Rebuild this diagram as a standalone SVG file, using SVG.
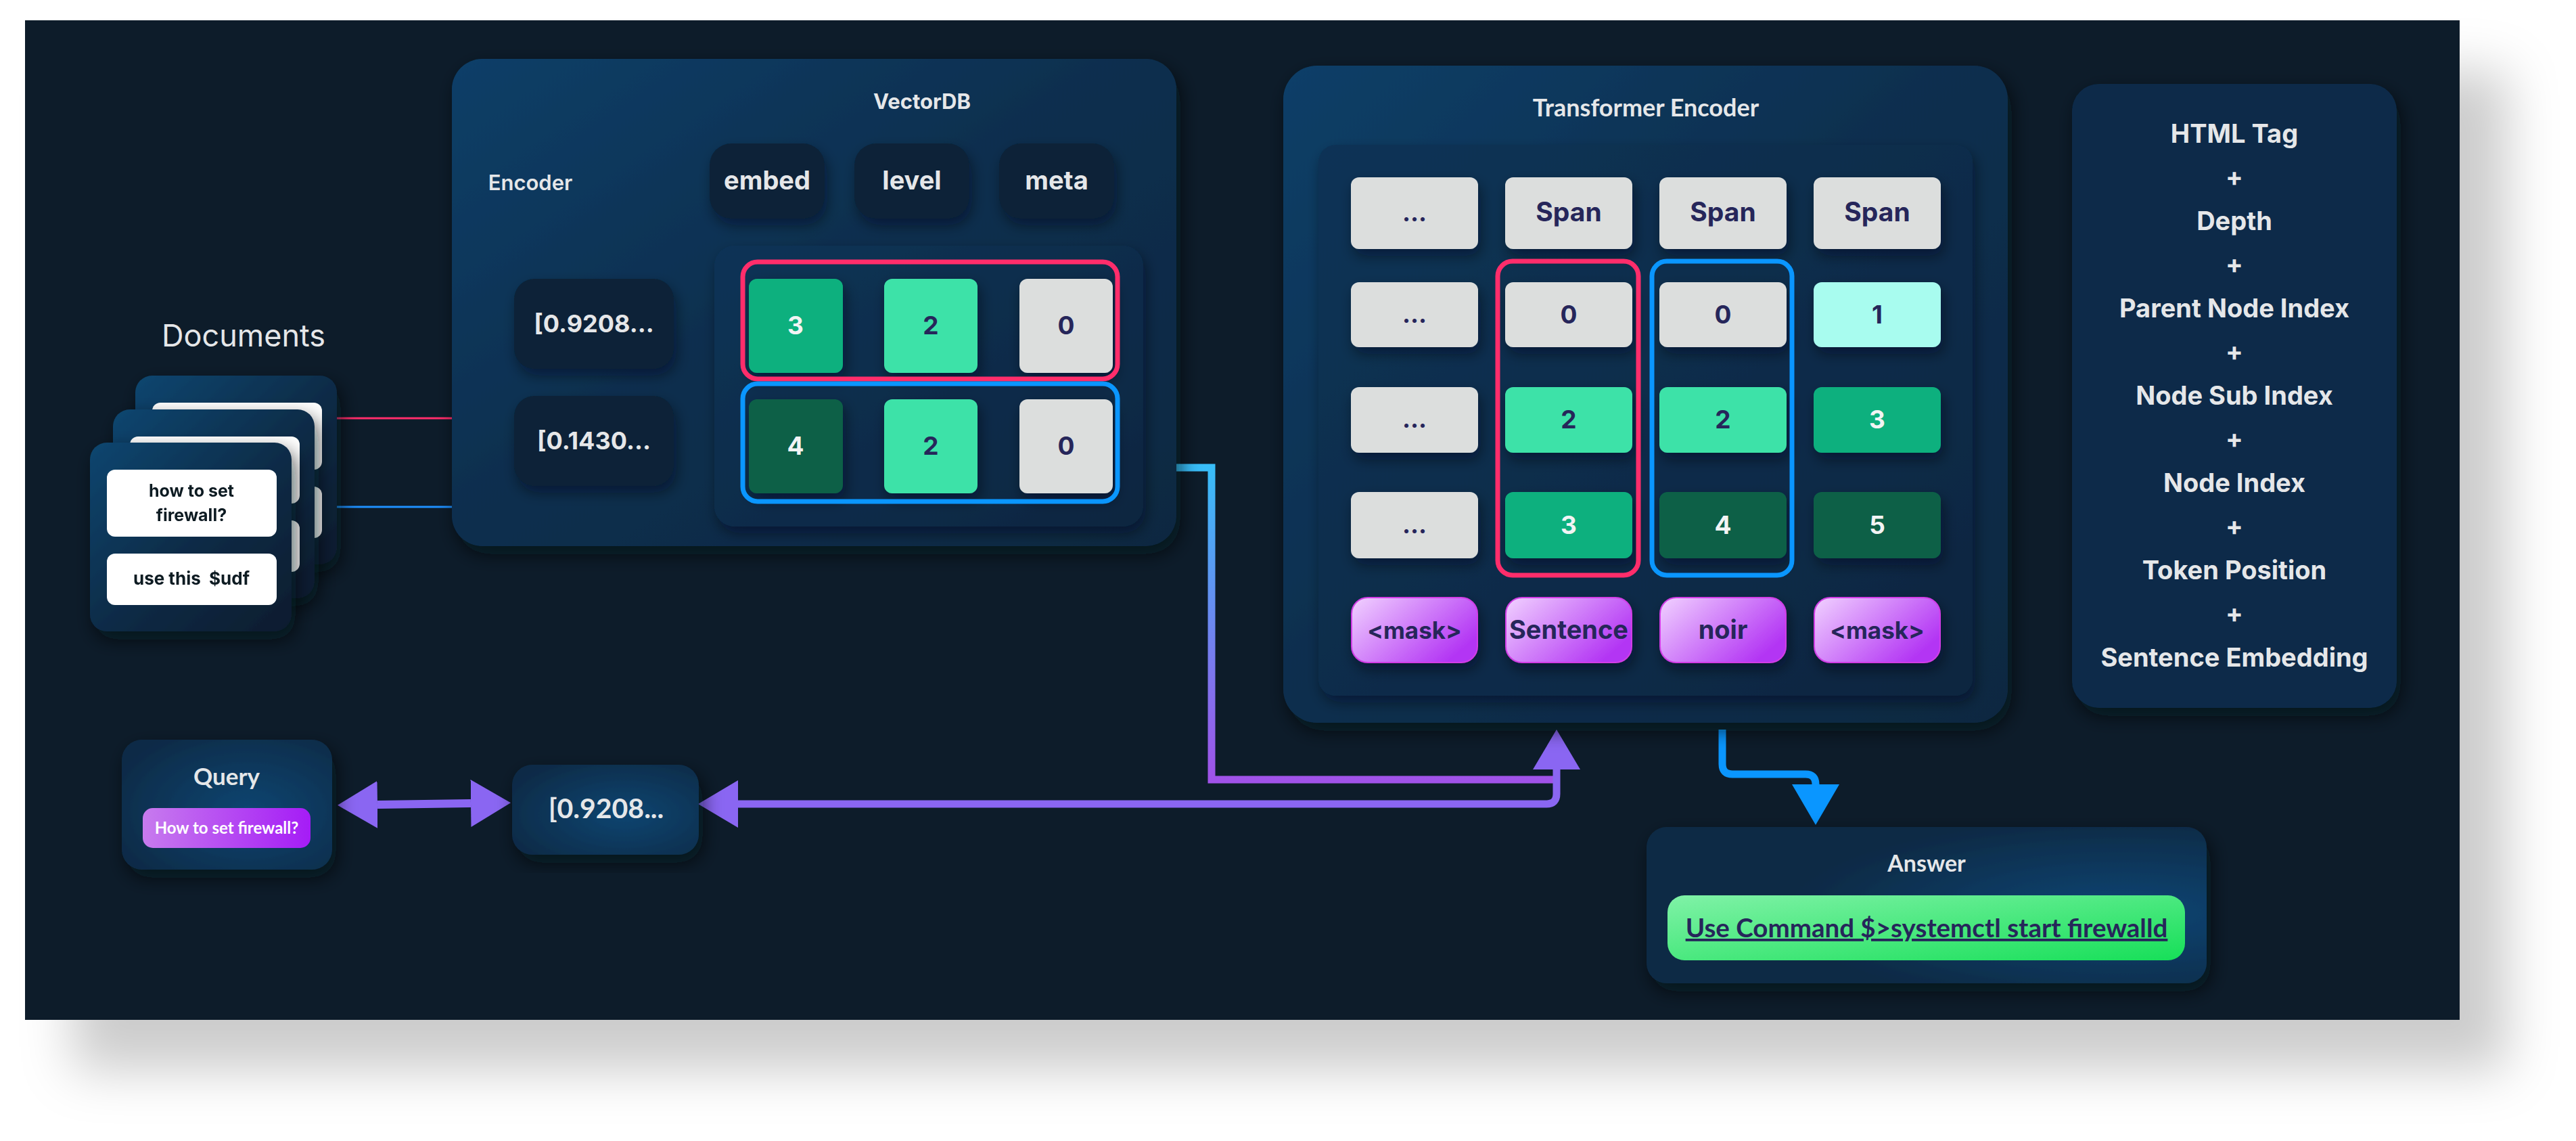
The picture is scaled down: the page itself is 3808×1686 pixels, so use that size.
<svg xmlns="http://www.w3.org/2000/svg" width="3808" height="1686" viewBox="0 0 3808 1686">
<defs>
<style>
.p{font-family:Inter,"Noto Sans","DejaVu Sans",sans-serif;font-weight:700;text-anchor:middle}
.s{font-family:Lato,"Noto Sans","DejaVu Sans",sans-serif;font-weight:700;text-anchor:middle}
.lt{fill:#e5e7e9}
.nv{fill:#26265a}
.wt{fill:#f2f4f4}
.dk{fill:#0a2237}
.gr{fill:#dcdedd}
.g1{fill:#0db07e}
.g2{fill:#3ee2a8}
.g3{fill:#0a6147}
.cy{fill:#a8fcef}
.tile{fill:#ffffff}
.pill{fill:url(#pillGrad);stroke:#d23ee6;stroke-width:2}
.red{fill:none;stroke:#ff2d6b;stroke-width:7}
.blu{fill:none;stroke:#0a96ff;stroke-width:7}
</style>
<filter id="pageSh" x="-5%" y="-5%" width="115%" height="125%">
<feDropShadow dx="70" dy="75" stdDeviation="38" flood-color="#000" flood-opacity="0.2"/>
</filter>
<filter id="sh" x="-20%" y="-20%" width="140%" height="140%">
<feDropShadow dx="6" dy="12" stdDeviation="14" flood-color="#040c14" flood-opacity="0.65"/>
</filter>
<filter id="sh2" x="-30%" y="-30%" width="160%" height="170%">
<feDropShadow dx="4" dy="10" stdDeviation="10" flood-color="#040c14" flood-opacity="0.45"/>
</filter>
<linearGradient id="panelGrad" x1="0" y1="0" x2="1" y2="1">
<stop offset="0" stop-color="#0c3f68"/><stop offset="0.45" stop-color="#0c2f4f"/><stop offset="1" stop-color="#0b2841"/>
</linearGradient>
<linearGradient id="innerGrad" x1="0" y1="0" x2="1" y2="1">
<stop offset="0" stop-color="#0b3356"/><stop offset="1" stop-color="#0a2640"/>
</linearGradient>
<linearGradient id="cardGrad" x1="0" y1="0" x2="1" y2="1">
<stop offset="0" stop-color="#0d4670"/><stop offset="0.55" stop-color="#0c2a45"/><stop offset="1" stop-color="#0a1c2e"/>
</linearGradient>
<radialGradient id="glowQ" cx="0.6" cy="0.55" r="0.7">
<stop offset="0" stop-color="#0c4571"/><stop offset="1" stop-color="#0b2a46"/>
</radialGradient>
<radialGradient id="glowA" cx="0.85" cy="0.55" r="0.6">
<stop offset="0" stop-color="#0d4574"/><stop offset="1" stop-color="#0b2a45"/>
</radialGradient>
<linearGradient id="pillGrad" x1="0" y1="0" x2="1" y2="0.6">
<stop offset="0" stop-color="#f1d2ff"/><stop offset="1" stop-color="#b335f4"/>
</linearGradient>
<linearGradient id="qPill" x1="0" y1="0" x2="1" y2="0">
<stop offset="0" stop-color="#c77bee"/><stop offset="1" stop-color="#a51cf6"/>
</linearGradient>
<linearGradient id="greenGrad" x1="0" y1="0" x2="1" y2="1">
<stop offset="0" stop-color="#80f2a7"/><stop offset="1" stop-color="#16df58"/>
</linearGradient>
<linearGradient id="connGrad" gradientUnits="userSpaceOnUse" x1="0" y1="691" x2="0" y2="1152">
<stop offset="0" stop-color="#38bdf8"/><stop offset="1" stop-color="#a052e8"/>
</linearGradient>
<marker id="vhead" viewBox="0 0 59 70" refX="0" refY="35" markerWidth="59" markerHeight="70" markerUnits="userSpaceOnUse" orient="auto-start-reverse">
<path d="M0,0 L59,35 L0,70 Z" fill="#8a66f2"/>
</marker>
<marker id="bhead" viewBox="0 0 60 70" refX="0" refY="35" markerWidth="60" markerHeight="70" markerUnits="userSpaceOnUse" orient="auto">
<path d="M0,0 L60,35 L0,70 Z" fill="#0a96ff"/>
</marker>
</defs>

<rect x="0" y="0" width="3808" height="1686" fill="#ffffff"/>
<rect id="page" x="37" y="30" width="3599" height="1477" fill="#0e1e2c" filter="url(#pageSh)"/>

<g id="connectors">
<path d="M498,618 H757" stroke="#ff2d6b" stroke-width="3" fill="none"/>
<path d="M498,749 H757" stroke="#1e90ff" stroke-width="3" fill="none"/>
<path d="M1739,691 H1791 V1152 H2301" stroke="url(#connGrad)" stroke-width="11" fill="none"/>
<path d="M1091,1188 H2286 Q2301,1188 2301,1173 V1137" stroke="#8a66f2" stroke-width="11" fill="none" marker-start="url(#vhead)" marker-end="url(#vhead)"/>
<path d="M558,1189 L696,1187" stroke="#8a66f2" stroke-width="12" fill="none" marker-start="url(#vhead)" marker-end="url(#vhead)"/>
<path d="M2546,1078 V1129 Q2546,1144 2561,1144 H2669 Q2684,1144 2684,1159" stroke="#0a96ff" stroke-width="11" fill="none" marker-end="url(#bhead)"/>
</g>

<g id="documents">
<text class="p lt" x="360" y="512" font-size="45" style="font-weight:400">Documents</text>
<g id="doc3" filter="url(#sh)">
<rect x="200" y="555" width="298" height="279" rx="25" fill="url(#cardGrad)"/>
<rect class="tile" x="225" y="595" width="251" height="99" rx="12"/>
<rect class="tile" x="225" y="719" width="251" height="76" rx="12"/>
</g>
<g id="doc2" filter="url(#sh)">
<rect x="167" y="605" width="298" height="279" rx="25" fill="url(#cardGrad)"/>
<rect class="tile" x="192" y="645" width="251" height="99" rx="12"/>
<rect class="tile" x="192" y="769" width="251" height="76" rx="12"/>
</g>
<g id="doc1" filter="url(#sh)">
<rect x="133" y="654" width="298" height="279" rx="25" fill="url(#cardGrad)"/>
<rect class="tile" x="158" y="694" width="251" height="99" rx="12"/>
<rect class="tile" x="158" y="818" width="251" height="76" rx="12"/>
<text class="p" x="283" y="734" font-size="25" fill="#111a24">how to set</text>
<text class="p" x="283" y="770" font-size="25" fill="#111a24">firewall?</text>
<text class="p" x="283" y="864" font-size="26" fill="#111a24" xml:space="preserve">use this  $udf</text>
</g>
</g>

<g id="vectordb">
<rect x="668" y="87" width="1071" height="720" rx="45" fill="url(#panelGrad)" filter="url(#sh)"/>
<text class="p lt" x="1363" y="161" font-size="31">VectorDB</text>
<text class="p lt" x="784" y="281" font-size="31" style="font-weight:600">Encoder</text>
<g filter="url(#sh2)">
<rect class="dk" x="1049" y="212" width="170" height="111" rx="32"/>
<rect class="dk" x="1263" y="212" width="170" height="111" rx="32"/>
<rect class="dk" x="1477" y="212" width="170" height="111" rx="32"/>
</g>
<text class="p lt" x="1134" y="280" font-size="38">embed</text>
<text class="p lt" x="1348" y="280" font-size="38">level</text>
<text class="p lt" x="1562" y="280" font-size="38">meta</text>
<g filter="url(#sh2)">
<rect class="dk" x="760" y="412" width="236" height="133" rx="30"/>
<rect class="dk" x="760" y="585" width="236" height="133" rx="30"/>
</g>
<text class="p lt" x="878" y="491" font-size="36">[0.9208...</text>
<text class="p lt" x="878" y="664" font-size="36">[0.1430...</text>
<rect x="1056" y="363" width="634" height="415" rx="30" fill="url(#innerGrad)" filter="url(#sh2)"/>
<g filter="url(#sh2)">
<rect class="g1" x="1107" y="412" width="139" height="139" rx="12"/>
<rect class="g2" x="1307" y="412" width="138" height="139" rx="12"/>
<rect class="gr" x="1507" y="412" width="138" height="139" rx="12"/>
<rect class="g3" x="1107" y="590" width="139" height="139" rx="12"/>
<rect class="g2" x="1307" y="590" width="138" height="139" rx="12"/>
<rect class="gr" x="1507" y="590" width="138" height="139" rx="12"/>
</g>
<text class="p wt" x="1176" y="494" font-size="37">3</text>
<text class="p nv" x="1376" y="494" font-size="37">2</text>
<text class="p nv" x="1576" y="494" font-size="37">0</text>
<text class="p wt" x="1176" y="672" font-size="37">4</text>
<text class="p nv" x="1376" y="672" font-size="37">2</text>
<text class="p nv" x="1576" y="672" font-size="37">0</text>
<rect class="red" x="1098" y="387" width="554" height="173" rx="22"/>
<rect class="blu" x="1098" y="567" width="554" height="174" rx="22"/>
</g>

<g id="query">
<rect x="180" y="1093" width="311" height="192" rx="30" fill="url(#glowQ)" filter="url(#sh)"/>
<text class="s lt" x="335" y="1160" font-size="35">Query</text>
<rect x="211" y="1194" width="248" height="59" rx="15" fill="url(#qPill)"/>
<text class="s" x="335" y="1232" font-size="24" fill="#ffffff">How to set firewall?</text>
</g>

<g id="queryvec">
<rect x="757" y="1130" width="276" height="133" rx="30" fill="url(#glowQ)" filter="url(#sh)"/>
<text class="s lt" x="896" y="1209" font-size="41">[0.9208...</text>
</g>

<g id="transformer">
<rect x="1897" y="97" width="1071" height="971" rx="50" fill="url(#panelGrad)" filter="url(#sh)"/>
<text class="s lt" x="2433" y="172" font-size="36">Transformer Encoder</text>
<rect x="1949" y="214" width="967" height="814" rx="25" fill="url(#innerGrad)" filter="url(#sh2)"/>
<g filter="url(#sh2)">
<rect class="gr" x="1997" y="262" width="188" height="106" rx="12"/>
<rect class="gr" x="2225" y="262" width="188" height="106" rx="12"/>
<rect class="gr" x="2453" y="262" width="188" height="106" rx="12"/>
<rect class="gr" x="2681" y="262" width="188" height="106" rx="12"/>
<rect class="gr" x="1997" y="417" width="188" height="96" rx="12"/>
<rect class="gr" x="2225" y="417" width="188" height="96" rx="12"/>
<rect class="gr" x="2453" y="417" width="188" height="96" rx="12"/>
<rect class="cy" x="2681" y="417" width="188" height="96" rx="12"/>
<rect class="gr" x="1997" y="572" width="188" height="97" rx="12"/>
<rect class="g2" x="2225" y="572" width="188" height="97" rx="12"/>
<rect class="g2" x="2453" y="572" width="188" height="97" rx="12"/>
<rect class="g1" x="2681" y="572" width="188" height="97" rx="12"/>
<rect class="gr" x="1997" y="727" width="188" height="98" rx="12"/>
<rect class="g1" x="2225" y="727" width="188" height="98" rx="12"/>
<rect class="g3" x="2453" y="727" width="188" height="98" rx="12"/>
<rect class="g3" x="2681" y="727" width="188" height="98" rx="12"/>
<rect class="pill" x="1998" y="883" width="186" height="96" rx="24"/>
<rect class="pill" x="2226" y="883" width="186" height="96" rx="24"/>
<rect class="pill" x="2454" y="883" width="186" height="96" rx="24"/>
<rect class="pill" x="2682" y="883" width="186" height="96" rx="24"/>
</g>
<text class="p nv" x="2091" y="327" font-size="36">...</text>
<text class="p nv" x="2319" y="327" font-size="39">Span</text>
<text class="p nv" x="2547" y="327" font-size="39">Span</text>
<text class="p nv" x="2775" y="327" font-size="39">Span</text>
<text class="p nv" x="2091" y="477" font-size="36">...</text>
<text class="p nv" x="2319" y="478" font-size="37">0</text>
<text class="p nv" x="2547" y="478" font-size="37">0</text>
<text class="p nv" x="2775" y="478" font-size="37">1</text>
<text class="p nv" x="2091" y="632" font-size="36">...</text>
<text class="p nv" x="2319" y="633" font-size="37">2</text>
<text class="p nv" x="2547" y="633" font-size="37">2</text>
<text class="p wt" x="2775" y="633" font-size="37">3</text>
<text class="p nv" x="2091" y="788" font-size="36">...</text>
<text class="p wt" x="2319" y="789" font-size="37">3</text>
<text class="p wt" x="2547" y="789" font-size="37">4</text>
<text class="p wt" x="2775" y="789" font-size="37">5</text>
<text class="p nv" x="2091" y="944" font-size="35">&lt;mask&gt;</text>
<text class="p nv" x="2319" y="944" font-size="38">Sentence</text>
<text class="p nv" x="2547" y="944" font-size="38">noir</text>
<text class="p nv" x="2775" y="944" font-size="35">&lt;mask&gt;</text>
<rect class="red" x="2214" y="386" width="208" height="464" rx="22"/>
<rect class="blu" x="2442" y="386" width="207" height="464" rx="22"/>
</g>

<g id="features">
<rect x="3063" y="124" width="480" height="922" rx="40" fill="#0c2b48" filter="url(#sh)"/>
<text class="p lt" x="3303" y="211" font-size="38">HTML Tag</text>
<text class="p lt" x="3303" y="275" font-size="38">+</text>
<text class="p lt" x="3303" y="340" font-size="38">Depth</text>
<text class="p lt" x="3303" y="404" font-size="38">+</text>
<text class="p lt" x="3303" y="469" font-size="38">Parent Node Index</text>
<text class="p lt" x="3303" y="533" font-size="38">+</text>
<text class="p lt" x="3303" y="598" font-size="38">Node Sub Index</text>
<text class="p lt" x="3303" y="662" font-size="38">+</text>
<text class="p lt" x="3303" y="727" font-size="38">Node Index</text>
<text class="p lt" x="3303" y="791" font-size="38">+</text>
<text class="p lt" x="3303" y="856" font-size="38">Token Position</text>
<text class="p lt" x="3303" y="920" font-size="38">+</text>
<text class="p lt" x="3303" y="985" font-size="38">Sentence Embedding</text>
</g>

<g id="answer">
<rect x="2434" y="1222" width="828" height="231" rx="30" fill="url(#glowA)" filter="url(#sh)"/>
<text class="s lt" x="2848" y="1288" font-size="34">Answer</text>
<rect x="2465" y="1323" width="765" height="96" rx="25" fill="url(#greenGrad)"/>
<text class="s nv" x="2848" y="1385" font-size="38.5" text-decoration="underline">Use Command $&gt;systemctl start firewalld</text>
</g>
</svg>
